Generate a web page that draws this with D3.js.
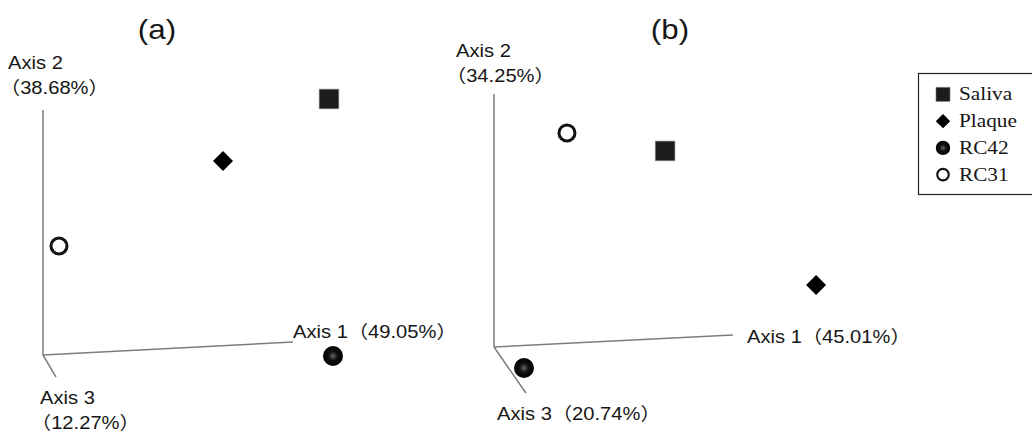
<!DOCTYPE html>
<html>
<head>
<meta charset="utf-8">
<script src="https://cdn.jsdelivr.net/npm/d3@7"></script>
<style>
  body { margin: 0; background: #fff; }
  svg { display: block; }
</style>
</head>
<body>
<script>
// groups and their markers
const groups = ['Saliva', 'Plaque', 'RC42', 'RC31'];

// panel (a): projected coordinates (axis 1 end = 100, axis 2 end = 100)
const aX = [114.4, 72, 116, 6.4];
const aY = [104.5, 79.2, -0.4, 44.5];
const aAxis1End = [100, 5.3];
const aAxis3End = [5.2, -9];
const aLabels = ['Axis 1（49.05%）', 'Axis 2', '（38.68%）', 'Axis 3', '（12.27%）'];

// panel (b)
const bX = [71.3, 134.2, 12.5, 30.4];
const bY = [77.5, 24.5, -8.3, 84.6];
const bAxis1End = [99.6, 4.7];
const bAxis3End = [13.3, -18.2];
const bLabels = ['Axis 1（45.01%）', 'Axis 2', '（34.25%）', 'Axis 3（20.74%）'];

const width = 1032, height = 433;
const stretch = 1.12; // the original figure is slightly stretched sideways

const svg = d3.select('body').append('svg')
    .attr('width', width)
    .attr('height', height);

// radial gradient for the filled circle
const defs = svg.append('defs');
const grad = defs.append('radialGradient').attr('id', 'ball');
grad.append('stop').attr('offset', '0%').attr('stop-color', '#666');
grad.append('stop').attr('offset', '45%').attr('stop-color', '#111');
grad.append('stop').attr('offset', '100%').attr('stop-color', '#000');

const sansFont = 'Liberation Sans, Arial, "Noto Sans CJK JP", sans-serif';
const serifFont = '"Liberation Serif", "Times New Roman", serif';

function label(g, x, y, txt, size, family, anchor) {
    g.append('text')
        .attr('transform', `translate(${x},${y}) scale(${stretch},1)`)
        .attr('font-family', family || sansFont)
        .attr('font-size', size)
        .attr('text-anchor', anchor || 'start')
        .attr('fill', '#161616')
        .text(txt);
}

function marker(g, name, cx, cy, scale) {
    const k = scale || 1;
    if (name === 'Saliva') {
        g.append('path')
            .attr('d', d3.symbol(d3.symbolSquare, 380 * k * k)())
            .attr('transform', `translate(${cx},${cy})`)
            .attr('fill', '#1c1c1c')
            .attr('stroke', '#777')
            .attr('stroke-width', 0.6);
    } else if (name === 'Plaque') {
        g.append('path')
            .attr('d', d3.symbol(d3.symbolSquare, 200 * k * k)())
            .attr('transform', `translate(${cx},${cy}) rotate(45)`)
            .attr('fill', '#000');
    } else if (name === 'RC42') {
        g.append('circle')
            .attr('cx', cx).attr('cy', cy).attr('r', 10 * k)
            .attr('fill', 'url(#ball)');
    } else {
        g.append('circle')
            .attr('cx', cx).attr('cy', cy).attr('r', 8 * k)
            .attr('fill', '#fff')
            .attr('stroke', '#111')
            .attr('stroke-width', 3 * k);
    }
}

function drawAxes(g, x, y, end1, end3) {
    const o = [x(0), y(0)];
    const ends = [[x(end1[0]), y(end1[1])], [x(0), y(100)], [x(end3[0]), y(end3[1])]];
    ends.forEach(e => {
        g.append('line')
            .attr('x1', o[0]).attr('y1', o[1])
            .attr('x2', e[0]).attr('y2', e[1])
            .attr('stroke', '#7d7d7d')
            .attr('stroke-width', 1.5);
    });
}

// ---- panel (a)
const xa = d3.scaleLinear().domain([0, 100]).range([43, 293]);
const ya = d3.scaleLinear().domain([0, 100]).range([355, 110]);
const ga = svg.append('g');
drawAxes(ga, xa, ya, aAxis1End, aAxis3End);
groups.forEach((grp, i) => marker(ga, grp, xa(aX[i]), ya(aY[i])));
label(ga, 157, 39, '(a)', 28, sansFont, 'middle');
label(ga, 293, 338, aLabels[0], 18);
label(ga, 8, 69, aLabels[1], 18);
label(ga, 0, 94, aLabels[2], 18);
label(ga, 40, 404, aLabels[3], 18);
label(ga, 31, 429, aLabels[4], 18);

// ---- panel (b)
const xb = d3.scaleLinear().domain([0, 100]).range([494, 734]);
const yb = d3.scaleLinear().domain([0, 100]).range([347, 94]);
const gb = svg.append('g');
drawAxes(gb, xb, yb, bAxis1End, bAxis3End);
groups.forEach((grp, i) => marker(gb, grp, xb(bX[i]), yb(bY[i])));
label(gb, 670, 39, '(b)', 28, sansFont, 'middle');
label(gb, 747, 343, bLabels[0], 18);
label(gb, 456, 57, bLabels[1], 18);
label(gb, 446, 82, bLabels[2], 18);
label(gb, 497, 420, bLabels[3], 18);

// ---- legend
const legend = svg.append('g');
legend.append('rect')
    .attr('x', 918.5).attr('y', 73.5)
    .attr('width', 130).attr('height', 121)
    .attr('fill', '#fff')
    .attr('stroke', '#222')
    .attr('stroke-width', 1.2);
const ly = d3.scaleBand().domain(groups).range([81, 188]);
groups.forEach(grp => {
    const cy = ly(grp) + ly.bandwidth() / 2;
    marker(legend, grp, 943, cy, 0.72);
    label(legend, 959, cy + 6, grp, 19, serifFont);
});
</script>
</body>
</html>
